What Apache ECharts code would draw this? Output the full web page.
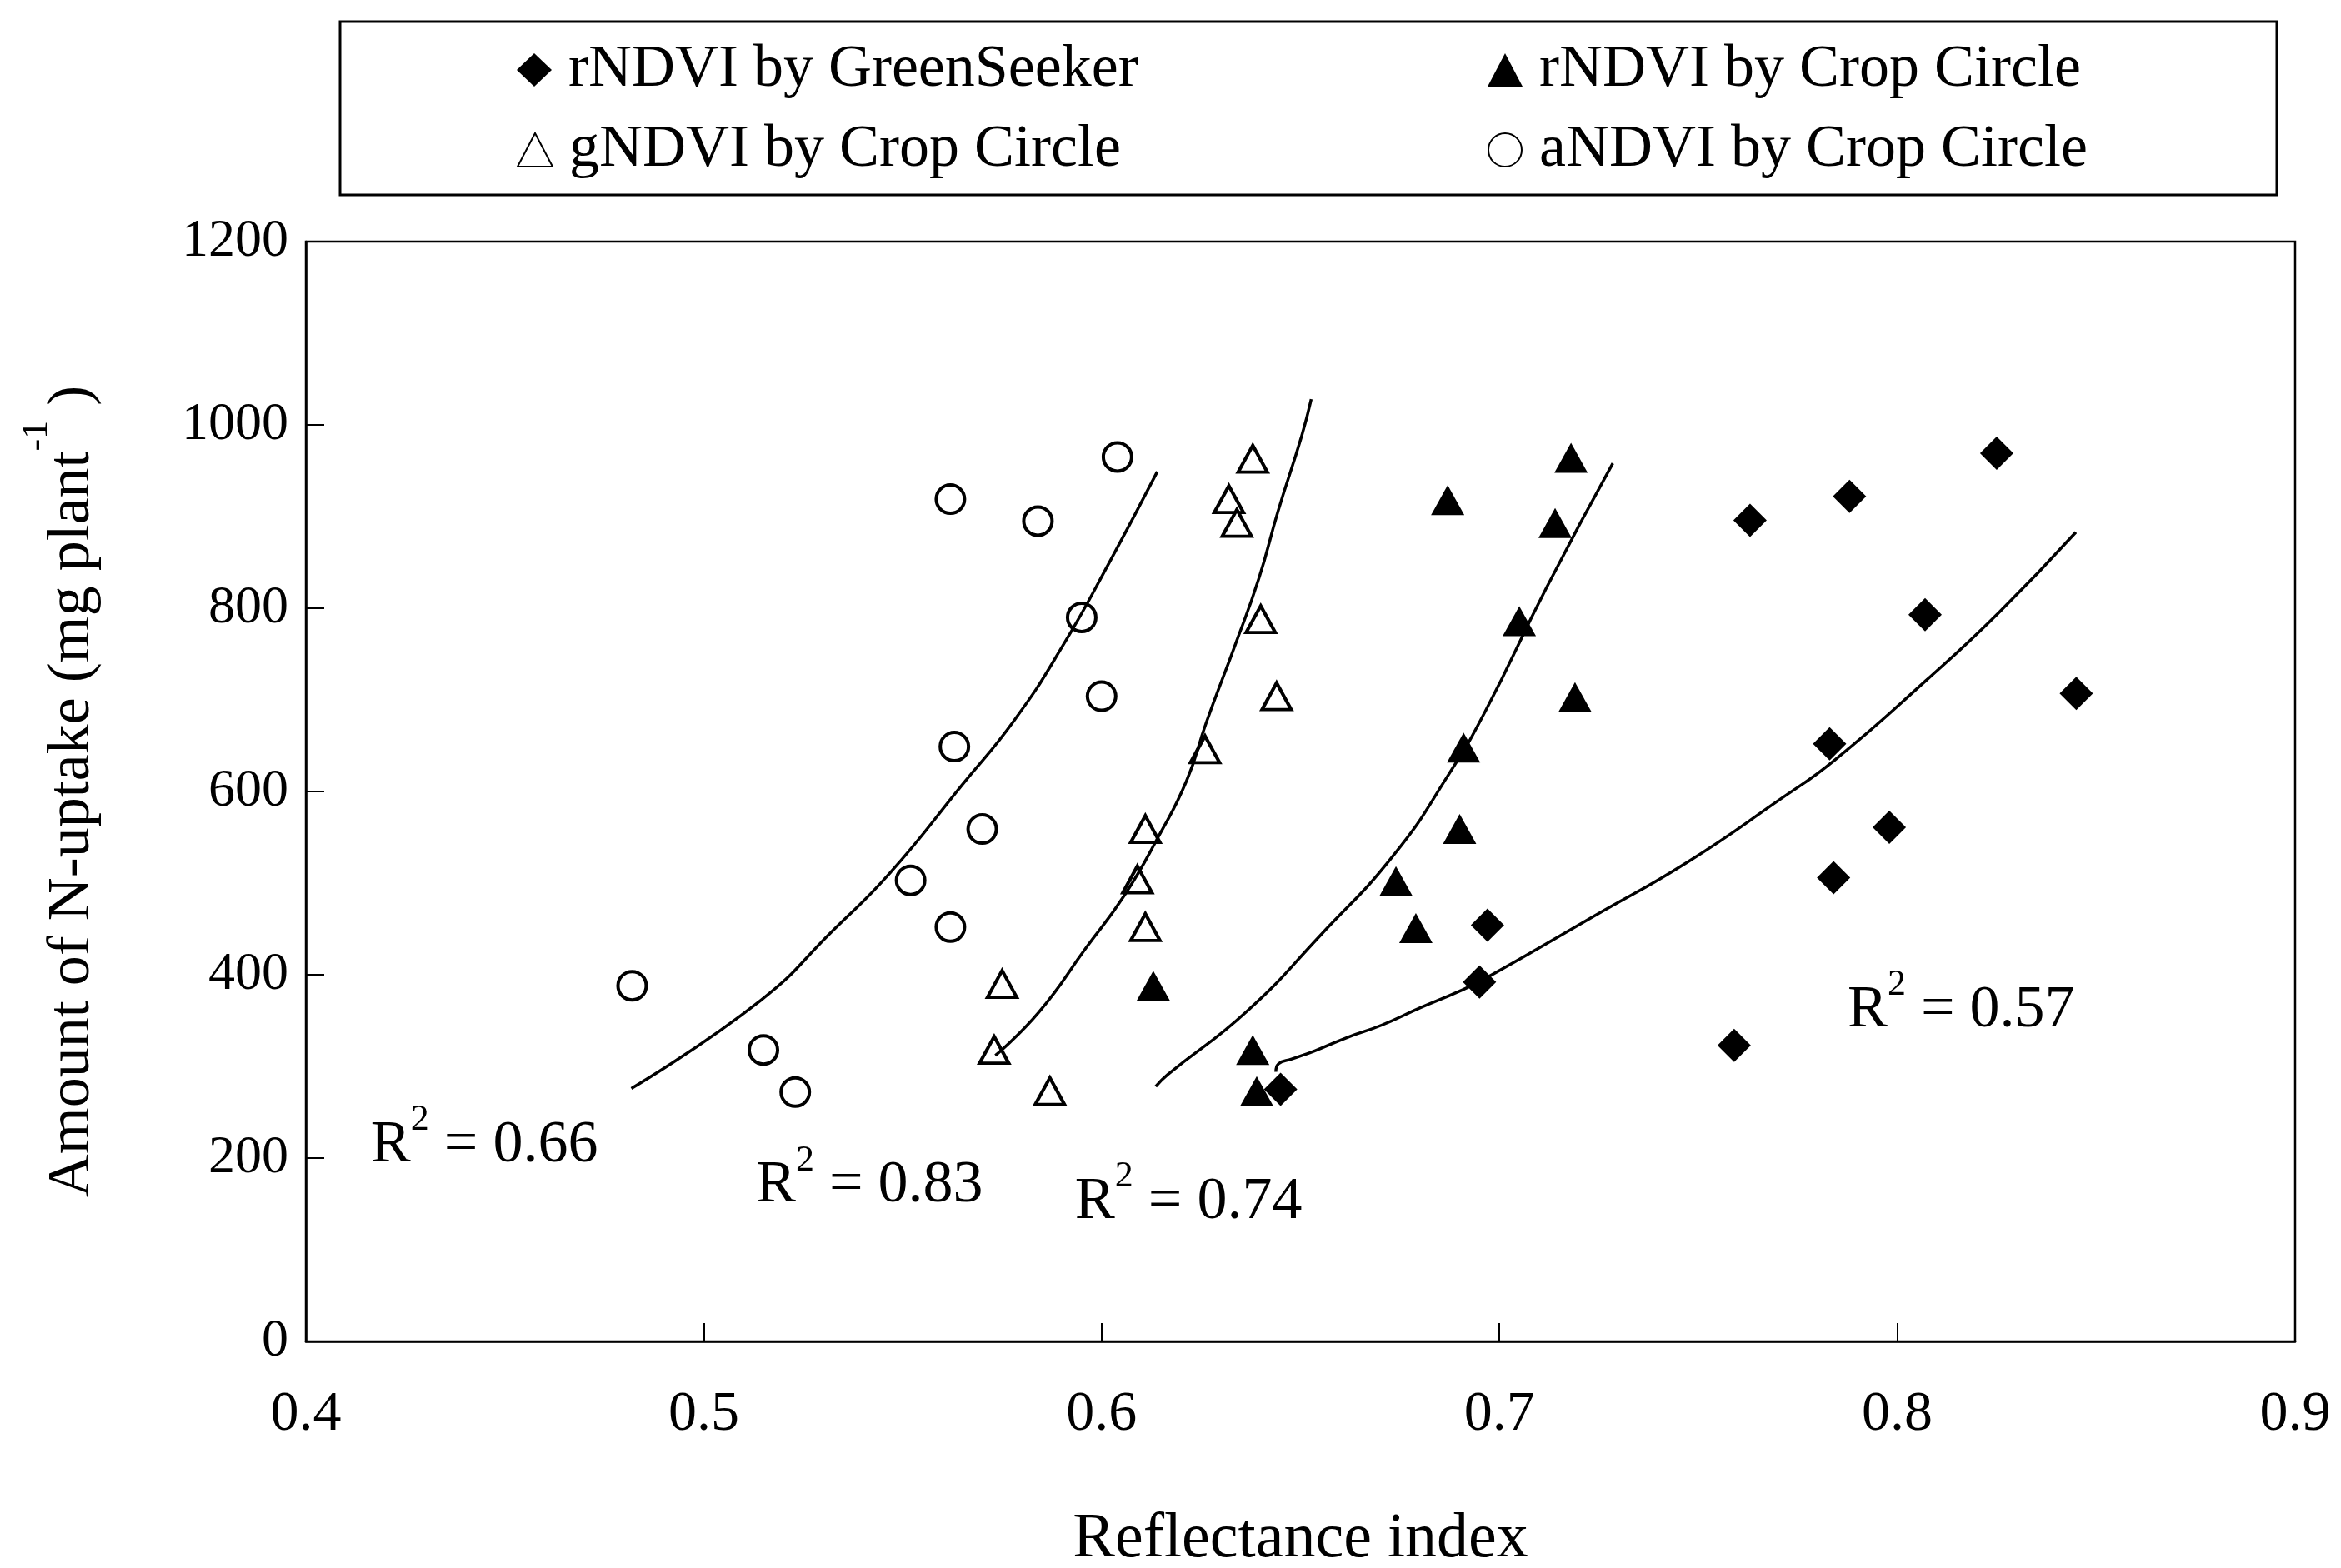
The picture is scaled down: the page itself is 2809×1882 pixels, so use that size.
<!DOCTYPE html>
<html>
<head>
<meta charset="utf-8">
<script src="https://cdn.jsdelivr.net/npm/echarts@6/dist/echarts.min.js"></script>
<style>
html, body { margin: 0; padding: 0; background: #fff; }
#chart { width: 2809px; height: 1882px; }
</style>
</head>
<body>
<div id="chart"></div>
<script>
// N-uptake vs reflectance index
const seriesNames = ["rNDVI by GreenSeeker", "rNDVI by Crop Circle", "gNDVI by Crop Circle", "aNDVI by Crop Circle"];
const xTicks = [0.4, 0.5, 0.6, 0.7, 0.8, 0.9];
const yTicks = [0, 200, 400, 600, 800, 1000, 1200];

// points
const gsX = [0.825, 0.788, 0.763, 0.807, 0.845, 0.783, 0.798, 0.784, 0.697, 0.695, 0.759, 0.645];
const gsY = [969, 922, 896, 793, 707, 652, 561, 506, 454, 392, 323, 275];
const ccrX = [0.718, 0.687, 0.714, 0.705, 0.719, 0.691, 0.690, 0.674, 0.679, 0.613, 0.638, 0.639];
const ccrY = [964, 918, 893, 786, 703, 648, 559, 502, 451, 388, 318, 273];
const ccgX = [0.638, 0.632, 0.634, 0.640, 0.644, 0.626, 0.611, 0.609, 0.611, 0.575, 0.573, 0.587];
const ccgY = [963, 919, 893, 788, 704, 646, 559, 504, 452, 390, 318, 273];
const ccaX = [0.482, 0.515, 0.523, 0.552, 0.562, 0.563, 0.562, 0.570, 0.584, 0.595, 0.600, 0.604];
const ccaY = [388, 318, 272, 503, 452, 649, 919, 559, 895, 790, 704, 965];

// fitted curves
const fitGsX = [0.6438, 0.6445, 0.6478, 0.6536, 0.662, 0.6704, 0.6801, 0.6899, 0.6965, 0.7242, 0.7473, 0.7704, 0.7842, 0.8072, 0.8257, 0.8449];
const fitGsY = [294, 303, 308, 317, 332, 345, 364, 382, 396, 465, 523, 591, 634, 721, 796, 883];
const fitCcrX = [0.6136, 0.6166, 0.6365, 0.655, 0.6735, 0.6873, 0.6965, 0.7119, 0.7285];
const fitCcrY = [278, 291, 360, 443, 531, 619, 688, 823, 958];
const fitCcgX = [0.5733, 0.5842, 0.5962, 0.6058, 0.6142, 0.6214, 0.6263, 0.6335, 0.6395, 0.6443, 0.6503, 0.6527];
const fitCcgY = [312, 359, 430, 487, 550, 612, 675, 759, 832, 905, 988, 1028];
const fitCcaX = [0.4818, 0.5143, 0.5324, 0.5468, 0.5649, 0.5781, 0.5901, 0.6022, 0.614];
const fitCcaY = [276, 372, 448, 511, 607, 678, 758, 852, 949];

// R2 labels
const r2Text = ["0.66", "0.83", "0.74", "0.57"];
const r2AtX = [0.4163, 0.5131, 0.5933, 0.7875];
const r2AtY = [214, 170, 152, 361];

const FONT = "Liberation Serif";
const zip = (xs, ys) => xs.map((x, i) => [x, ys[i]]);

const chart = echarts.init(document.getElementById("chart"));

function pointSeries(name, xs, ys, symbol, size, filled) {
  return {
    name: name,
    type: "scatter",
    data: zip(xs, ys),
    symbol: symbol,
    symbolSize: size,
    itemStyle: filled
      ? { color: "#000", opacity: 1 }
      : { color: "#fff", borderColor: "#000", borderWidth: 4, opacity: 1 },
    z: 2,
  };
}

function fitSeries(xs, ys) {
  return {
    type: "line",
    data: zip(xs, ys),
    showSymbol: false,
    symbol: "none",
    smooth: 0.5,
    lineStyle: { color: "#000", width: 3.5 },
    silent: true,
    z: 3,
  };
}

const legendLeft = [620, 1785, 620, 1785];
const legendTop = [44, 44, 140, 140];

const legendBox = {
  type: "rect",
  id: "legendBox",
  shape: { x: 408, y: 26, width: 2324, height: 208 },
  style: { fill: "none", stroke: "#000", lineWidth: 3 },
  silent: true,
};

const option = {
  animation: false,
  backgroundColor: "#fff",
  grid: {
    left: 367,
    right: 55,
    top: 290,
    bottom: 272,
    outerBoundsMode: "none",
    show: true,
    borderColor: "#000",
    borderWidth: 2.5,
  },
  legend: seriesNames.map((n, i) => ({
    data: [n],
    left: legendLeft[i],
    top: legendTop[i],
    padding: 0,
    itemWidth: 42,
    itemHeight: 40,
    selectedMode: false,
    textStyle: {
      fontFamily: FONT,
      fontSize: 72,
      lineHeight: 80,
      color: "#000",
      padding: [0, 0, 0, 15],
    },
  })),
  graphic: [legendBox],
  xAxis: {
    type: "value",
    min: xTicks[0],
    max: xTicks[xTicks.length - 1],
    interval: 0.1,
    name: "Reflectance index",
    nameLocation: "middle",
    nameGap: 196,
    nameTextStyle: { fontFamily: FONT, fontSize: 76, lineHeight: 84, color: "#000" },
    axisLine: { show: true, lineStyle: { color: "#000", width: 2.5 } },
    axisTick: { show: true, inside: true, length: 22, lineStyle: { color: "#000", width: 2 } },
    splitLine: { show: false },
    axisLabel: {
      fontFamily: FONT,
      fontSize: 68,
      lineHeight: 76,
      color: "#000",
      margin: 50,
      formatter: (v) => v.toFixed(1),
    },
  },
  yAxis: {
    type: "value",
    min: yTicks[0],
    max: yTicks[yTicks.length - 1],
    interval: 200,
    name: "{t|Amount of N-uptake (mg plant}{s|-1}{t| )}",
    nameLocation: "middle",
    nameGap: 214,
    nameTextStyle: {
      fontFamily: FONT,
      color: "#000",
      rich: {
        t: { fontFamily: FONT, fontSize: 72, lineHeight: 131, color: "#000" },
        s: { fontFamily: FONT, fontSize: 44, lineHeight: 44, verticalAlign: "top", color: "#000" },
      },
    },
    axisLine: { show: true, lineStyle: { color: "#000", width: 2.5 } },
    axisTick: { show: true, inside: true, length: 22, lineStyle: { color: "#000", width: 2 } },
    splitLine: { show: false },
    axisLabel: {
      fontFamily: FONT,
      fontSize: 64,
      color: "#000",
      margin: 21,
      formatter: (v) => String(v),
    },
  },
  series: [
    pointSeries(seriesNames[0], gsX, gsY, "diamond", [40, 40], true),
    pointSeries(seriesNames[1], ccrX, ccrY, "triangle", [40, 36], true),
    pointSeries(seriesNames[2], ccgX, ccgY, "triangle", [35, 32], false),
    pointSeries(seriesNames[3], ccaX, ccaY, "circle", 34, false),
    fitSeries(fitGsX, fitGsY),
    fitSeries(fitCcrX, fitCcrY),
    fitSeries(fitCcgX, fitCcgY),
    fitSeries(fitCcaX, fitCcaY),
  ],
};

chart.setOption(option);

// R2 annotations, anchored in data space
const r2Graphics = r2Text.map((t, i) => {
  const p = chart.convertToPixel({ gridIndex: 0 }, [r2AtX[i], r2AtY[i]]);
  return {
    type: "text",
    id: "r2_" + i,
    x: p[0],
    y: p[1],
    z: 10,
    silent: true,
    style: {
      text: "{r|R}{s|2}{r| = " + t + "}",
      fill: "#000",
      textAlign: "left",
      textVerticalAlign: "middle",
      rich: {
        r: { fontFamily: FONT, fontSize: 72, lineHeight: 104, fill: "#000", textFill: "#000" },
        s: { fontFamily: FONT, fontSize: 44, lineHeight: 40, verticalAlign: "top", textVerticalAlign: "top", fill: "#000", textFill: "#000" },
      },
    },
  };
});
chart.setOption({ graphic: [legendBox].concat(r2Graphics) });
</script>
</body>
</html>
